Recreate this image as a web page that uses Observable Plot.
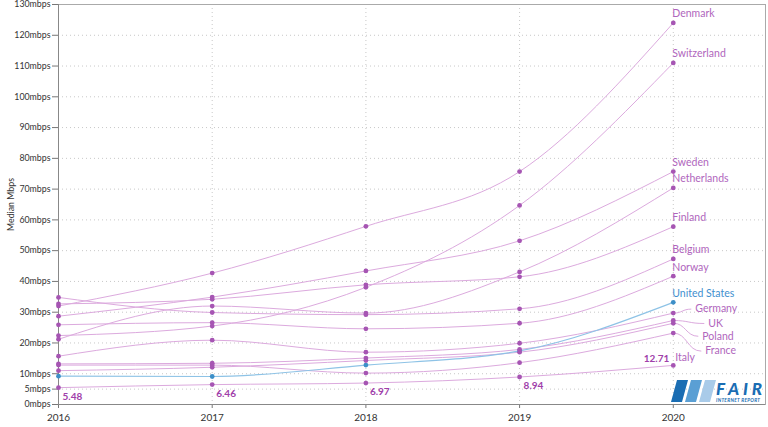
<!DOCTYPE html>
<html>
<head>
<meta charset="utf-8">
<script src="https://cdn.jsdelivr.net/npm/d3@7"></script>
<script src="https://cdn.jsdelivr.net/npm/@observablehq/plot@0.6"></script>
<style>
  html, body { margin: 0; padding: 0; background: #fff; }
  #wrap { position: relative; width: 768px; height: 427px; overflow: hidden; }
  #logo { position: absolute; left: 667px; top: 379px; }
</style>
</head>
<body>
<div id="wrap">
  <div id="chart"></div>
  <svg id="logo" width="100" height="26" viewBox="0 0 100 26">
    <polygon points="10,1 21,1 15,23 4,23" fill="#1a6db3"/>
    <polygon points="24,1 35,1 29,23 18,23" fill="#5a9fd4"/>
    <polygon points="38,1 49,1 43,23 32,23" fill="#a9cbe9"/>
    <text x="49" y="15.5" font-family="Lato, sans-serif" font-weight="900" font-style="italic" font-size="17" fill="#1a6db3" textLength="46">FAIR</text>
    <text x="49" y="23" font-family="Lato, sans-serif" font-weight="700" font-style="italic" font-size="4.8" fill="#1a6db3" textLength="44">INTERNET REPORT</text>
  </svg>
</div>
<script>
const years = [2016, 2017, 2018, 2019, 2020];
const yTicks = [0, 5, 10, 20, 30, 40, 50, 60, 70, 80, 90, 100, 110, 120, 130];
const countries = ["Denmark", "Switzerland", "Sweden", "Netherlands", "Finland", "Belgium", "Norway",
                   "United States", "Germany", "UK", "Poland", "France", "Italy"];
const denmark      = [32.0, 42.7, 57.9, 75.7, 124.0];
const switzerland  = [22.4, 25.5, 38.1, 64.7, 111.0];
const sweden       = [28.7, 34.9, 43.4, 53.2, 75.7];
const netherlands  = [21.2, 32.0, 29.7, 43.1, 70.4];
const finland      = [32.7, 34.2, 38.9, 41.5, 57.8];
const belgium      = [34.8, 29.9, 29.2, 31.1, 47.3];
const norway       = [25.9, 26.6, 24.6, 26.4, 41.7];
const unitedStates = [9.2, 9.1, 12.8, 17.4, 33.2];
const germany      = [15.7, 20.9, 17.0, 19.9, 29.7];
const uk           = [13.2, 13.4, 15.1, 17.9, 27.3];
const poland       = [11.0, 12.1, 14.3, 17.0, 26.4];
const france       = [12.8, 12.8, 10.2, 13.6, 23.2];
const italy        = [5.48, 6.46, 6.97, 8.94, 12.71];
const seriesValues = [denmark, switzerland, sweden, netherlands, finland, belgium, norway,
                      unitedStates, germany, uk, poland, france, italy];

const rows = [];
countries.forEach((c, i) => years.forEach((yr, j) => rows.push({country: c, year: yr, value: seriesValues[i][j]})));
const last = rows.filter(d => d.year === 2020);
const italyRows = rows.filter(d => d.country === "Italy");

// layout for labels attached by leader lines (pixels)
const leaderLayout = [
  {country: "Germany", dxPx: 18, dyPx: -4},
  {country: "UK", dxPx: 31, dyPx: 3},
  {country: "Poland", dxPx: 25, dyPx: 13},
  {country: "France", dxPx: 28, dyPx: 18}
];
const leaderNames = leaderLayout.map(d => d.country);

const W = 768, H = 427, mL = 58, mR = 3, mT = 4, mB = 23;
const xDomain = [2016, 2020.6], yDomain = [0, 130];
const pxPerYear = (W - mL - mR) / (xDomain[1] - xDomain[0]);
const pxPerMbps = (H - mT - mB) / (yDomain[1] - yDomain[0]);
const leaders = leaderLayout.map(l => {
  const v = last.find(d => d.country === l.country).value;
  return {country: l.country, x1: 2020, y1: v, x2: 2020 + l.dxPx / pxPerYear, y2: v - l.dyPx / pxPerMbps};
});

const purpleLine = "#dcaade", purpleDot = "#a655b3", purpleText = "#b066bd";
const blueLine = "#8ec3e6", blueDot = "#3d8fc8", blueText = "#3f8fcf";
const isUS = d => d.country === "United States";

const chart = Plot.plot({
  width: W, height: H,
  marginLeft: mL, marginRight: mR, marginTop: mT, marginBottom: mB,
  style: {fontFamily: "Lato, sans-serif", fontSize: "10px", color: "#333", background: "#fff", overflow: "visible"},
  x: {domain: xDomain},
  y: {domain: yDomain},
  marks: [
    Plot.gridX(years, {stroke: "#c8c8c8", strokeOpacity: 1, strokeDasharray: "1,3"}),
    Plot.gridY(yTicks, {stroke: "#c8c8c8", strokeOpacity: 1, strokeDasharray: "1,3"}),
    Plot.frame({stroke: "#aaa", strokeWidth: 1}),
    Plot.axisY({ticks: yTicks, tickFormat: d => d + "mbps", tickSize: 6, tickPadding: 2, fontSize: 8.8,
      label: "Median Mbps", labelAnchor: "center", labelArrow: "none", labelOffset: 51, stroke: "#777", fill: "#333"}),
    Plot.axisX({ticks: years, tickFormat: d => String(d), tickSize: 4, label: null, stroke: "#777", fill: "#333"}),
    Plot.ruleY([0], {stroke: "#888"}),
    Plot.ruleX([2016], {stroke: "#888"}),
    Plot.line(rows.filter(d => !isUS(d)), {x: "year", y: "value", z: "country", stroke: purpleLine, strokeWidth: 1, curve: "monotone-x"}),
    Plot.line(rows.filter(isUS), {x: "year", y: "value", stroke: blueLine, strokeWidth: 1.2, curve: "monotone-x"}),
    Plot.link(leaders, {x1: "x1", y1: "y1", x2: "x2", y2: "y2", stroke: purpleLine, strokeWidth: 1, curve: "bump-x"}),
    Plot.dot(rows, {x: "year", y: "value", r: 2.4, fill: d => isUS(d) ? blueDot : purpleDot, stroke: "none"}),
    Plot.text(last.filter(d => !leaderNames.includes(d.country) && d.country !== "Italy"), {
      x: "year", y: "value", text: "country", textAnchor: "start", dy: -9, dx: -1,
      fill: d => isUS(d) ? blueText : purpleText, fontSize: 10.5}),
    Plot.text(last.filter(d => d.country === "Italy"), {
      x: "year", y: "value", text: "country", textAnchor: "start", dy: -8, dx: 2, fill: purpleText, fontSize: 10.5}),
    Plot.text(leaders, {x: "x2", y: "y2", text: "country", textAnchor: "start", dx: 4, fill: purpleText, fontSize: 10.5}),
    Plot.text(italyRows.filter(d => d.year < 2020), {
      x: "year", y: "value", text: d => d.value.toFixed(2), textAnchor: "start", dx: 4, dy: 9,
      fill: "#a040aa", fontWeight: "bold", fontSize: 10}),
    Plot.text(italyRows.filter(d => d.year === 2020), {
      x: "year", y: "value", text: d => d.value.toFixed(2), textAnchor: "end", dx: -4, dy: -7,
      fill: "#a040aa", fontWeight: "bold", fontSize: 10})
  ]
});
document.getElementById("chart").appendChild(chart);
</script>
</body>
</html>
